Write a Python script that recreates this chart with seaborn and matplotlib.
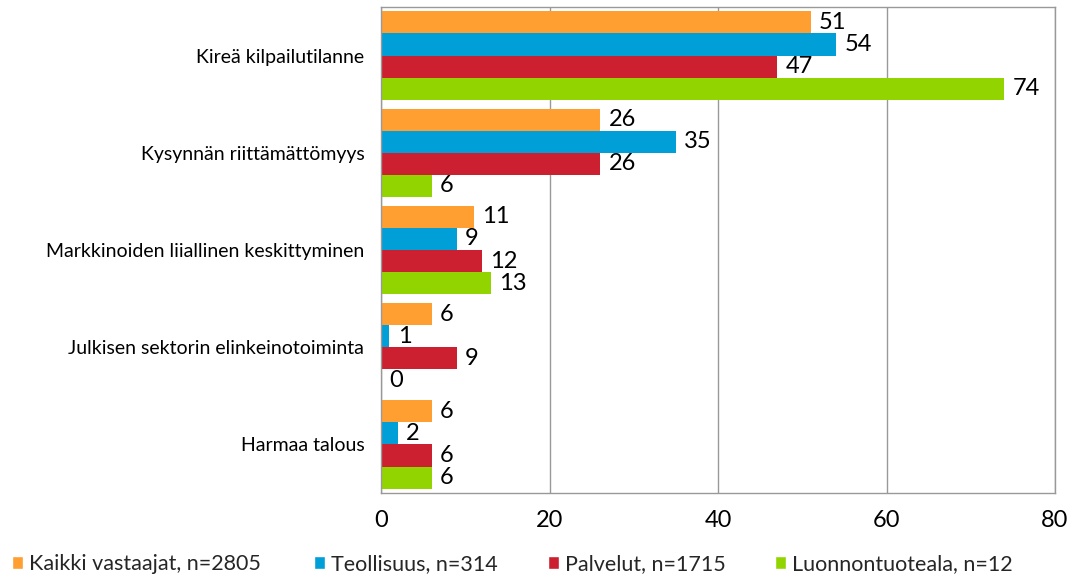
import matplotlib
matplotlib.use("Agg")
import matplotlib.pyplot as plt
import seaborn as sns
import pandas as pd
from matplotlib.patches import Patch

categories = ["Kireä kilpailutilanne", "Kysynnän riittämättömyys",
              "Markkinoiden liiallinen keskittyminen",
              "Julkisen sektorin elinkeinotoiminta", "Harmaa talous"]
series = ["Kaikki vastaajat, n=2805", "Teollisuus, n=314",
          "Palvelut, n=1715", "Luonnontuoteala, n=12"]
kaikki = [51, 26, 11, 6, 6]
teollisuus = [54, 35, 9, 1, 2]
palvelut = [47, 26, 12, 9, 6]
luonnontuote = [74, 6, 13, 0, 6]
colors = ["#FF9F32", "#009FD8", "#CC1F2F", "#92D400"]

rows = []
for s, vals in zip(series, [kaikki, teollisuus, palvelut, luonnontuote]):
    for c, v in zip(categories, vals):
        rows.append({"cat": c, "series": s, "value": v})
df = pd.DataFrame(rows)

sns.set_theme(style="white")
plt.rcParams['font.family'] = ['Lato', 'DejaVu Sans']

fig = plt.figure(figsize=(10.79, 5.78), dpi=100)
ax = fig.add_axes([381/1079, 1-493/578, (1055-381)/1079, (493-7)/578])
sns.barplot(data=df, y="cat", x="value", hue="series", order=categories,
            hue_order=series, palette=colors, orient="h", ax=ax,
            width=0.91, saturation=1, legend=False, errorbar=None,
            linewidth=0)

for cont in ax.containers:
    ax.bar_label(cont, labels=[f"{int(b.get_width())}" for b in cont],
                 padding=6, fontsize=17, color="black")

ax.set_xlim(0, 80)
ax.set_ylim(len(categories) - 0.5, -0.5)
ax.set_xticks([0, 20, 40, 60, 80])
ax.tick_params(axis="x", labelsize=17, pad=12, length=0, labelcolor="black")
ax.tick_params(axis="y", labelsize=14, pad=12, length=0, labelcolor="black")
ax.set_xlabel("")
ax.set_ylabel("")
ax.xaxis.grid(True, color="#999999", linewidth=1)
ax.set_axisbelow(True)
for sp in ax.spines.values():
    sp.set_color("#999999")
    sp.set_linewidth(1)

legend_x = [12, 314, 548, 775]
for c, s, lx in zip(colors, series, legend_x):
    fig.legend(handles=[Patch(facecolor=c, label=s)], loc="center left",
               bbox_to_anchor=(lx / 1079, 1 - 564 / 578),
               frameon=False, fontsize=15.5, handlelength=0.5,
               handleheight=0.6, handletextpad=0.3, borderpad=0,
               borderaxespad=0)

fig.savefig("out.png", dpi=100)
